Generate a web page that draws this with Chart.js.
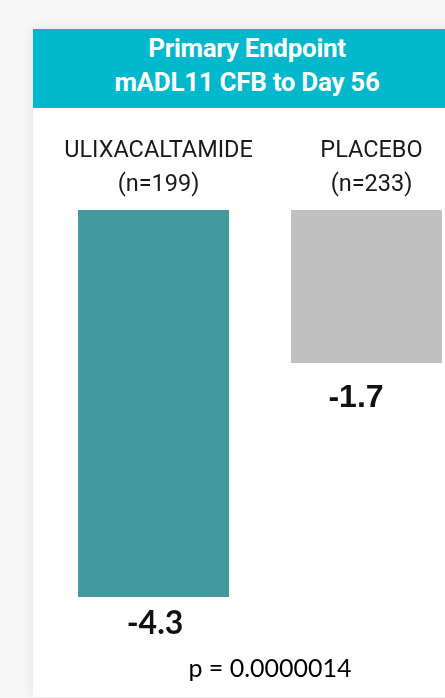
<!DOCTYPE html>
<html>
<head>
<meta charset="utf-8">
<title>Primary Endpoint – mADL11 CFB to Day 56</title>
<script src="https://cdn.jsdelivr.net/npm/chart.js@4/dist/chart.umd.min.js"></script>
<style>
  html, body { margin: 0; padding: 0; width: 445px; height: 698px; overflow: hidden; background: #f7f7f7; }
  #card {
    position: absolute; left: 33px; top: 29px; width: 428px; height: 668px;
    background: #fff; box-shadow: 0 0 12px rgba(0,0,0,0.09);
  }
  #head {
    box-sizing: border-box; height: 79px; padding-top: 2px;
    background: #02b8cc; color: #fff; text-align: center;
    font-family: Roboto, sans-serif; font-weight: 700; font-size: 26px;
    line-height: 34px; letter-spacing: -0.3px;
  }
  #wrap { position: absolute; left: 0; top: 0; width: 490px; height: 698px; }
</style>
</head>
<body>
<div id="card"><div id="head">Primary Endpoint<br>mADL11 CFB to Day 56</div></div>
<div id="wrap"><canvas id="chart"></canvas></div>
<script>
// Treatment arms, group sizes and mean change from baseline in mADL11 at Day 56
const categories = ['ULIXACALTAMIDE', 'PLACEBO'];
const sampleSizes = [199, 233];
const changeFromBaseline = [-4.3, -1.7];
const pValue = '0.0000014';

const barColors = ['#44999f', '#c0c0c0'];

const tickLabels = categories.map((c, i) => [c, '(n=' + sampleSizes[i] + ')']);

// Writes each bar's value under its end, and the p-value under the chart
const valueLabels = {
  id: 'valueLabels',
  afterDatasetsDraw(chart, args, opts) {
    const ctx = chart.ctx;
    const meta = chart.getDatasetMeta(0);
    ctx.save();
    ctx.fillStyle = '#111';
    ctx.textAlign = 'center';
    ctx.textBaseline = 'alphabetic';
    meta.data.forEach((bar, i) => {
      const v = chart.data.datasets[0].data[i];
      ctx.font = opts.fonts[i];
      ctx.fillText(v.toFixed(1), bar.x + opts.dx[i], bar.y + opts.dy[i]);
    });
    const mid = (meta.data[0].x + meta.data[1].x) / 2;
    ctx.font = '25px Lato, sans-serif';
    ctx.fillStyle = '#000';
    ctx.fillText('p = ' + pValue, mid + 10, chart.chartArea.bottom + 17);
    ctx.restore();
  }
};

new Chart(document.getElementById('chart'), {
  type: 'bar',
  data: {
    labels: tickLabels,
    datasets: [{
      data: changeFromBaseline,
      backgroundColor: barColors,
      borderWidth: 0,
      categoryPercentage: 1,
      barPercentage: 0.709
    }]
  },
  options: {
    responsive: true,
    maintainAspectRatio: false,
    animation: false,
    events: [],
    layout: { padding: { left: 47, right: 17, top: 126, bottom: 38 } },
    plugins: {
      legend: { display: false },
      tooltip: { enabled: false },
      valueLabels: {
        fonts: ['bold 32px Lato, sans-serif', 'bold 32px "Liberation Sans", Arial, sans-serif'],
        dx: [1.5, -10.5],
        dy: [37, 44]
      }
    },
    scales: {
      x: {
        position: 'top',
        grid: { display: false, drawTicks: false },
        border: { display: false },
        ticks: {
          color: '#1a1a1a',
          font: { family: 'Roboto, sans-serif', size: 23.5, lineHeight: 34 / 23.5 },
          padding: 8,
          labelOffset: 5,
          maxRotation: 0,
          minRotation: 0,
          autoSkip: false
        }
      },
      y: { display: false, min: -5, max: 0 }
    }
  },
  plugins: [valueLabels]
});
</script>
</body>
</html>
